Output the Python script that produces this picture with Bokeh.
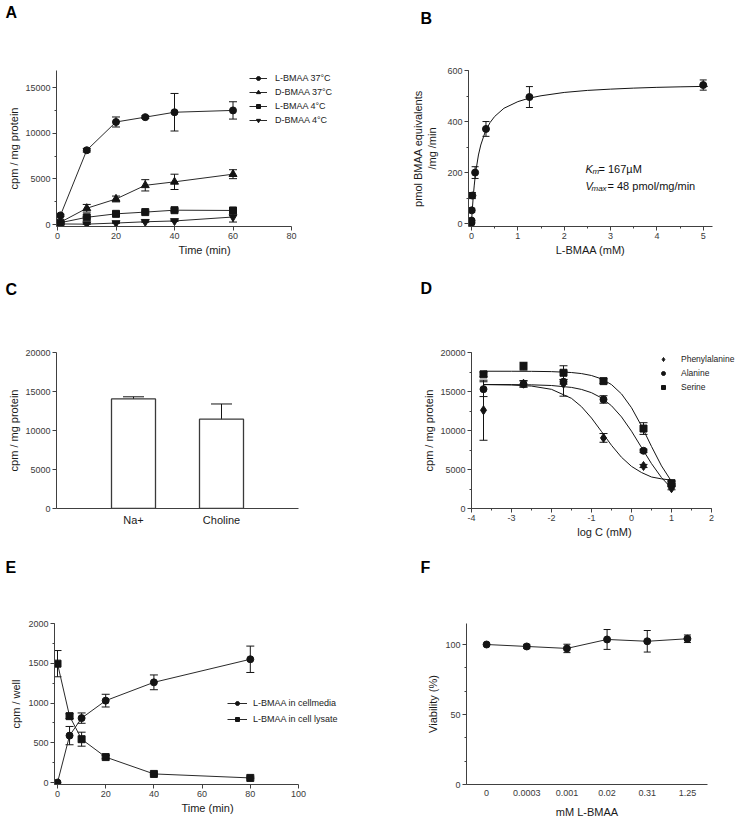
from bokeh.plotting import figure
from bokeh.models import (Range1d, FactorRange, SingleIntervalTicker, FixedTicker,
                          Whisker, TeeHead, ColumnDataSource, Legend, LegendItem, Label, Title)
from bokeh.layouts import column, row
from bokeh.embed import file_html
from bokeh.resources import INLINE

FONT = "Liberation Sans"
INK = "#141414"
LINE = "#2a2a2a"
AXC = "#404040"
TICKC = "#3a3a3a"

# ---------------- data ----------------
# A: uptake time course
a_time = [1, 10, 20, 30, 40, 60]
a_l37 = [1000, 8150, 11250, 11780, 12320, 12520]
a_l37_err = [120, 200, 550, 150, 2060, 950]
a_d37 = [250, 1780, 2800, 4300, 4680, 5520]
a_d37_err = [80, 420, 320, 620, 840, 490]
a_l4 = [200, 790, 1170, 1360, 1570, 1540]
a_l4_err = [60, 80, 120, 100, 150, 120]
a_d4 = [60, 40, 160, 300, 390, 820]
a_d4_err = [20, 20, 40, 60, 60, 550]
a_labels = ["L-BMAA 37°C", "D-BMAA 37°C", "L-BMAA 4°C", "D-BMAA 4°C"]

# B: kinetics
b_conc = [0.0003, 0.0012, 0.0049, 0.0195, 0.078, 0.3125, 1.25, 5.0]
b_rate = [3, 12, 52, 110, 200, 371, 496, 543]
b_err = [3, 5, 8, 12, 23, 29, 41, 20]
b_fit_x = [0, 0.01, 0.02, 0.04, 0.06, 0.08, 0.1, 0.15, 0.2, 0.3, 0.4, 0.5, 0.7,
           1.0, 1.25, 1.5, 2.0, 2.5, 3.0, 3.5, 4.0, 4.5, 5.1]
b_fit_y = [0, 33, 62, 111, 151, 185, 213, 269, 308, 362, 396, 420, 452,
           478, 492, 501, 514, 522, 527, 531, 534, 536, 538]

# C: sodium dependence
c_cats = ["Na+", "Choline"]
c_vals = [14050, 11450]
c_err = [270, 1950]

# D: competition
d_logc = [-3.7, -2.7, -1.7, -0.7, 0.3, 1.0]
d_phe = [12600, 16000, 16000, 9050, 5450, 2600]
d_phe_err = [3850, 400, 1600, 560, 200, 200]
d_ala = [15300, 15950, 16250, 13980, 7400, 3000]
d_ala_err = [950, 400, 300, 480, 200, 200]
d_ser = [17200, 18250, 17400, 16330, 10250, 3250]
d_ser_err = [300, 500, 900, 300, 750, 250]
d_fit_x = [-3.7, -3.0, -2.5, -2.0, -1.5, -1.25, -1.0, -0.75, -0.5, -0.25,
           0.0, 0.25, 0.5, 0.75, 1.0]
d_ser_fit = [17600, 17595, 17585, 17549, 17432, 17296, 17049, 16620, 15884,
             14691, 12922, 10583, 7953, 5464, 3475]
d_ala_fit = [15896, 15884, 15855, 15768, 15523, 15265, 14846, 14180, 13173,
             11743, 9913, 7821, 5755, 3962, 2590]
d_phe_fit = [15887, 15835, 15696, 15277, 14121, 13053, 11597, 9867, 8100,
             6565, 5400, 4610, 4038, 3800, 3634]
d_labels = ["Phenylalanine", "Alanine", "Serine"]
d_xticks = [-4, -3, -2, -1, 0, 1, 2]

# E: efflux
e_time = [0, 5, 10, 20, 40, 80]
e_media = [0, 590, 810, 1030, 1260, 1550]
e_media_err = [0, 115, 65, 80, 93, 166]
e_lysate = [1495, 835, 545, 320, 108, 58]
e_lysate_err = [165, 30, 88, 20, 10, 10]
e_labels = ["L-BMAA in cellmedia", "L-BMAA in cell lysate"]

# F: viability
f_conc = ["0", "0.0003", "0.001", "0.02", "0.31", "1.25"]
f_viab = [100, 98.6, 97.2, 103.6, 102.3, 104.1]
f_err = [0, 1.5, 3.0, 7.1, 7.7, 2.7]

# ---------------- helpers ----------------
geom = {}


def make_panel(key, W, H, axl, axr, axt, axb, xr, yr, padx=0, pady=0,
               frame_right=None, factors=None, fpad=0.375):
    fr = axr if frame_right is None else frame_right
    L = axl - padx
    R = W - fr
    T = axt
    B = H - (axb + pady)
    if factors is None:
        sx = (xr[1] - xr[0]) / (axr - axl)
        x0 = xr[0] - padx * sx
        x_range = Range1d(x0, xr[1] + (fr - axr) * sx)
    else:
        x_range = FactorRange(factors=factors, range_padding=fpad)
    sy = (yr[1] - yr[0]) / (axb - axt)
    y_range = Range1d(yr[0] - pady * sy, yr[1])
    p = figure(width=W, height=H, x_range=x_range, y_range=y_range, title=None,
               output_backend="svg", toolbar_location=None,
               min_border_left=L, min_border_right=R, min_border_top=T, min_border_bottom=B)
    p.outline_line_color = None
    p.grid.visible = False
    p.background_fill_color = "white"
    p.border_fill_color = "white"
    for ax in p.axis:
        ax.axis_line_color = AXC
        ax.axis_line_width = 1
        ax.major_tick_line_color = AXC
        ax.minor_tick_line_color = AXC
        ax.major_tick_in = 0
        ax.major_tick_out = 4
        ax.minor_tick_in = 0
        ax.minor_tick_out = 2
        ax.major_label_text_font = FONT
        ax.major_label_text_font_size = "9px"
        ax.major_label_text_color = TICKC
        ax.major_label_standoff = 2
        ax.axis_label_text_font = FONT
        ax.axis_label_text_font_size = "11px"
        ax.axis_label_text_font_style = "normal"
        ax.axis_label_text_color = "#1a1a1a"
        ax.axis_label_standoff = 2
    if factors is None:
        p.xaxis.bounds = (x0, xr[1])
    geom[key] = (L, H - B, T)
    return p


def put_text(p, key, lx, ly, text, size="11px", style="normal", color="#111111"):
    L, fb, T = geom[key]
    p.add_layout(Label(x=lx - L, y=fb - ly, x_units="screen", y_units="screen", text=text,
                       text_font=FONT, text_font_size=size, text_font_style=style,
                       text_baseline="alphabetic", text_align="left", text_color=color))


def letter(p, key, lx, text_top, text):
    # a blank white spacer title sits next to the frame; the panel letter title
    # stacks above it at the outer edge of the top border
    L, fb, T = geom[key]
    s = 2 * text_top
    spacer = Title(text=".", standoff=max(T - 24 - s, 0), text_font_size="2px",
                   text_color="#ffffff")
    lt = Title(text=text, align="left", offset=lx - L, standoff=s, vertical_align="top",
               text_font=FONT, text_font_size="16px", text_font_style="bold",
               text_color="#000000")
    p.add_layout(spacer, "above")
    p.add_layout(lt, "above")


def errbars(p, xs, ys, es, cap):
    keep = [i for i, e in enumerate(es) if e > 0]
    src = ColumnDataSource(dict(
        x=[xs[i] for i in keep],
        upper=[ys[i] + es[i] for i in keep],
        lower=[ys[i] - es[i] for i in keep]))
    w = Whisker(source=src, base="x", upper="upper", lower="lower", dimension="height",
                line_color=INK, line_width=1,
                upper_head=TeeHead(size=cap, line_color=INK, line_width=1),
                lower_head=TeeHead(size=cap, line_color=INK, line_width=1))
    p.add_layout(w)


def add_legend(p, key, items, lx, ly_top, gw, gh, spacing, standoff, size):
    L, fb, T = geom[key]
    n = len(items)
    height = n * gh + (n - 1) * spacing
    leg = Legend(items=items, location=(lx - L, fb - (ly_top + height)),
                 orientation="vertical", glyph_width=gw, glyph_height=gh,
                 label_height=gh, label_width=10, spacing=spacing, padding=0, margin=0,
                 label_standoff=standoff, border_line_color=None,
                 background_fill_alpha=0, label_text_font=FONT,
                 label_text_font_size=size, label_text_color="#222222")
    p.add_layout(leg)


# ---------------- A ----------------
pA = make_panel("A", 370, 270, 57, 291, 70, 224, (0, 80), (0, 16900), padx=1, pady=2,
                frame_right=352)
pA.xaxis.ticker = SingleIntervalTicker(interval=20, num_minor_ticks=0)
pA.yaxis.ticker = SingleIntervalTicker(interval=5000, num_minor_ticks=2)
pA.xaxis.axis_label = "Time (min)"
pA.yaxis.axis_label = "cpm / mg protein"
a_items = []
for ys, es, mk, sz, lab in [(a_l37, a_l37_err, "circle", 7, a_labels[0]),
                            (a_d37, a_d37_err, "triangle", 8, a_labels[1]),
                            (a_l4, a_l4_err, "square", 7, a_labels[2]),
                            (a_d4, a_d4_err, "inverted_triangle", 8, a_labels[3])]:
    errbars(pA, a_time, ys, es, 8)
    rl = pA.line(a_time, ys, line_color=LINE, line_width=1)
    rs = pA.scatter(a_time, ys, marker=mk, size=sz, fill_color=INK, line_color=INK)
    a_items.append(LegendItem(label=lab, renderers=[rl, rs]))
add_legend(pA, "A", a_items, 249, 73, 18, 10, 4, 8, "9px")
letter(pA, "A", 5, 1, "A")

# ---------------- B ----------------
pB = make_panel("B", 367, 270, 101, 342, 64, 224, (0, 5.2), (0, 600), padx=3, pady=3)
pB.xaxis.ticker = SingleIntervalTicker(interval=1, num_minor_ticks=2)
pB.yaxis.ticker = SingleIntervalTicker(interval=200, num_minor_ticks=2)
pB.xaxis.axis_label = "L-BMAA (mM)"
pB.yaxis.axis_label = "pmol BMAA equivalents\n/mg /min"
pB.yaxis.axis_label_standoff = 6
pB.line(b_fit_x, b_fit_y, line_color=INK, line_width=1)
errbars(pB, b_conc, b_rate, b_err, 7)
pB.scatter(b_conc, b_rate, marker="circle", size=7, fill_color=INK, line_color=INK)
put_text(pB, "B", 215, 169, "K", style="italic")
put_text(pB, "B", 222, 172, "m", size="8px", style="italic")
put_text(pB, "B", 228, 169, "= 167µM")
put_text(pB, "B", 215, 186, "V", style="italic")
put_text(pB, "B", 221, 189, "max", size="8px", style="italic")
put_text(pB, "B", 237, 186, "= 48 pmol/mg/min")
letter(pB, "B", 50, 1, "B")

# ---------------- C ----------------
pC = make_panel("C", 370, 270, 56, 298, 81, 242, None, (0, 20000), factors=c_cats, fpad=0.375)
pC.yaxis.ticker = SingleIntervalTicker(interval=5000, num_minor_ticks=0)
pC.yaxis.axis_label = "cpm / mg protein"
pC.xaxis.major_tick_out = 0
pC.xaxis.major_label_text_font_size = "11px"
pC.xaxis.major_label_text_color = "#1a1a1a"
pC.xaxis.major_label_standoff = 5
pC.vbar(x=c_cats, top=c_vals, width=0.5, fill_color="white", line_color="#3a3a3a", line_width=1.3)
errbars(pC, c_cats, c_vals, c_err, 21)
letter(pC, "C", 5, 7, "C")

# ---------------- D ----------------
pD = make_panel("D", 367, 270, 101, 341, 82, 242, (-4, 2), (0, 20000), frame_right=367)
pD.xaxis.ticker = SingleIntervalTicker(interval=1, num_minor_ticks=2)
pD.xaxis.major_label_overrides = {t: str(t) for t in d_xticks}
pD.yaxis.ticker = SingleIntervalTicker(interval=5000, num_minor_ticks=2)
pD.xaxis.axis_label = "log C (mM)"
pD.yaxis.axis_label = "cpm / mg protein"
for fy in (d_ser_fit, d_ala_fit, d_phe_fit):
    pD.line(d_fit_x, fy, line_color=INK, line_width=1)
d_items = []
for ys, es, mk, sz, lab in [(d_phe, d_phe_err, "diamond", 9, d_labels[0]),
                            (d_ala, d_ala_err, "circle", 7, d_labels[1]),
                            (d_ser, d_ser_err, "square", 7, d_labels[2])]:
    errbars(pD, d_logc, ys, es, 8)
    rs = pD.scatter(d_logc, ys, marker=mk, size=sz, fill_color=INK, line_color=INK)
    d_items.append(LegendItem(label=lab, renderers=[rs]))
add_legend(pD, "D", d_items, 288, 88, 10, 10, 4, 13, "8.5px")
letter(pD, "D", 50, 7, "D")

# ---------------- E ----------------
pE = make_panel("E", 370, 280, 57, 298, 83, 244, (0, 100), (0, 2000), padx=3, pady=2,
                frame_right=360)
pE.xaxis.ticker = SingleIntervalTicker(interval=20, num_minor_ticks=0)
pE.yaxis.ticker = SingleIntervalTicker(interval=500, num_minor_ticks=2)
pE.xaxis.axis_label = "Time (min)"
pE.yaxis.axis_label = "cpm / well"
pE.yaxis.axis_label_standoff = 3
e_items = []
for ys, es, mk, lab in [(e_media, e_media_err, "circle", e_labels[0]),
                        (e_lysate, e_lysate_err, "square", e_labels[1])]:
    errbars(pE, e_time, ys, es, 8)
    rl = pE.line(e_time, ys, line_color=LINE, line_width=1)
    rs = pE.scatter(e_time, ys, marker=mk, size=7, fill_color=INK, line_color=INK)
    e_items.append(LegendItem(label=lab, renderers=[rl, rs]))
add_legend(pE, "E", e_items, 227, 160, 20, 10, 6, 6, "9px")
letter(pE, "E", 5, 16, "E")

# ---------------- F ----------------
pF = make_panel("F", 367, 280, 96, 337, 83, 244, (-0.5, 5.5), (0, 115))
f_idx = list(range(len(f_conc)))
pF.xaxis.ticker = FixedTicker(ticks=f_idx)
pF.xaxis.major_label_overrides = {i: s for i, s in enumerate(f_conc)}
pF.xaxis.major_tick_out = 0
pF.xaxis.major_label_standoff = 5
pF.xaxis.axis_label_standoff = 7
pF.yaxis.ticker = SingleIntervalTicker(interval=50, num_minor_ticks=3)
pF.yaxis.axis_label_standoff = 3
pF.xaxis.axis_label = "mM L-BMAA"
pF.yaxis.axis_label = "Viability (%)"
errbars(pF, f_idx, f_viab, f_err, 7)
pF.line(f_idx, f_viab, line_color=LINE, line_width=1)
pF.scatter(f_idx, f_viab, marker="circle", size=7, fill_color=INK, line_color=INK)
letter(pF, "F", 50, 16, "F")

layout = column(row(pA, pB), row(pC, pD), row(pE, pF))
open("out.html", "w").write(file_html(layout, INLINE))
